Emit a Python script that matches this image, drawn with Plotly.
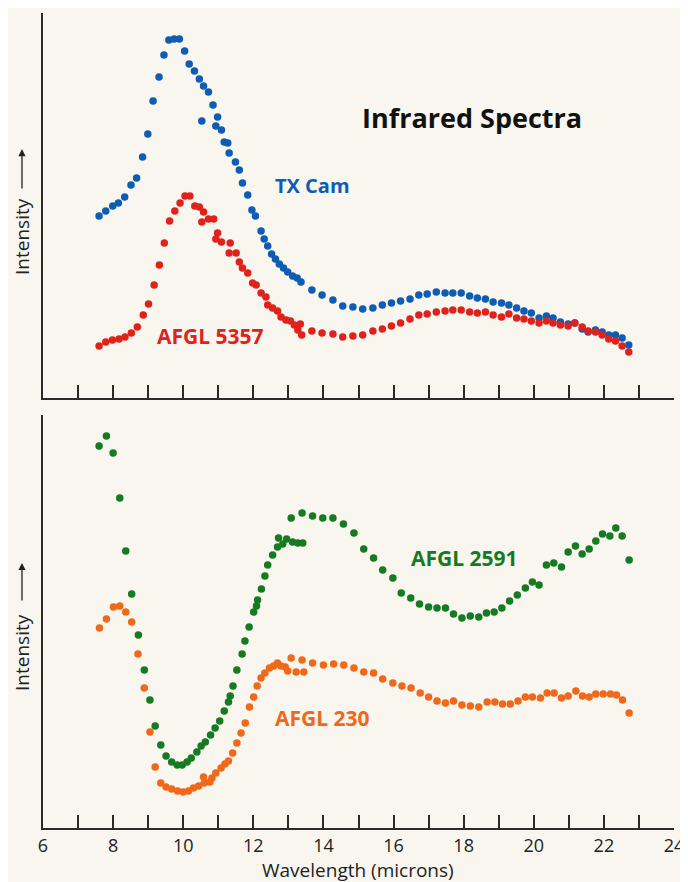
import plotly.graph_objects as go
from plotly.subplots import make_subplots

# ---- Data (arbitrary intensity units) ----
tx_cam_w = [7.60, 7.79, 7.99, 8.15, 8.33, 8.51, 8.67, 8.84, 8.99, 9.14, 9.31, 9.45, 9.59, 9.74, 9.89,
            10.04, 10.17, 10.32, 10.46, 10.58, 10.53, 10.72, 10.85, 10.98, 10.93, 11.09, 11.17, 11.27,
            11.31, 11.49, 11.60, 11.69, 11.84, 11.96, 12.06, 12.22, 12.31, 12.41, 12.52, 12.63, 12.74,
            12.86, 12.98, 13.12, 13.25, 13.36, 13.67, 13.96, 14.27, 14.55, 14.84, 15.12, 15.41, 15.68,
            15.94, 16.20, 16.47, 16.72, 16.96, 17.22, 17.47, 17.69, 17.93, 18.17, 18.39, 18.62, 18.84,
            19.08, 19.29, 19.51, 19.72, 19.93, 20.15, 20.36, 20.55, 20.76, 20.98, 21.17, 21.38, 21.55,
            21.76, 21.95, 22.14, 22.33, 22.52, 22.71]
tx_cam_i = [182, 187, 192, 195, 201, 213, 220, 241, 264, 297, 321, 343, 358, 359, 359,
            347, 334, 327, 319, 312, 277, 306, 293, 281, 272, 268, 256, 255,
            245, 236, 228, 215, 203, 188, 182, 167, 159, 152, 144, 139, 134,
            130, 126, 122, 120, 116, 108, 103, 98, 92, 91, 89, 90, 93,
            95, 97, 99, 103, 104, 106, 105, 105, 105, 102, 100, 99, 96,
            95, 93, 90, 87, 85, 80, 82, 80, 76, 74, 75, 69, 66,
            68, 66, 63, 63, 60, 53]

afgl5357_w = [7.60, 7.79, 7.98, 8.17, 8.34, 8.52, 8.69, 8.86, 9.01, 9.17, 9.32, 9.46, 9.61, 9.76, 9.91,
              10.05, 10.19, 10.33, 10.46, 10.58, 10.53, 10.72, 10.87, 10.98, 10.93, 11.09, 11.34, 11.31,
              11.51, 11.60, 11.69, 11.84, 11.98, 12.08, 12.22, 12.36, 12.41, 12.55, 12.69, 12.79, 12.93,
              13.06, 13.17, 13.34, 13.27, 13.38, 13.67, 13.96, 14.27, 14.55, 14.84, 15.12, 15.41, 15.68,
              15.94, 16.20, 16.47, 16.72, 16.96, 17.22, 17.47, 17.69, 17.93, 18.17, 18.39, 18.62, 18.84,
              19.08, 19.29, 19.51, 19.72, 19.93, 20.15, 20.36, 20.55, 20.76, 20.98, 21.17, 21.38, 21.55,
              21.76, 21.95, 22.14, 22.33, 22.52, 22.71]
afgl5357_i = [52, 56, 58, 59, 61, 65, 71, 83, 94, 113, 133, 155, 177, 187, 195,
              202, 202, 192, 191, 186, 176, 179, 179, 165, 159, 156, 155, 145,
              145, 136, 130, 125, 115, 113, 105, 101, 93, 90, 87, 81, 78,
              77, 73, 74, 68, 63, 67, 65, 64, 61, 62, 63, 67, 69,
              72, 75, 79, 83, 84, 86, 87, 88, 88, 86, 85, 86, 83,
              81, 84, 80, 79, 77, 75, 77, 75, 73, 72, 75, 71, 67,
              66, 63, 59, 57, 52, 46]

afgl2591_w = [7.60, 7.81, 8.00, 8.19, 8.36, 8.53, 8.72, 8.89, 9.05, 9.20, 9.36, 9.51, 9.67, 9.83, 9.97,
              10.11, 10.23, 10.39, 10.51, 10.63, 10.78, 10.91, 11.04, 11.17, 11.29, 11.34, 11.42, 11.53,
              11.68, 11.76, 11.88, 12.01, 12.09, 12.12, 12.23, 12.33, 12.41, 12.55, 12.69, 12.72, 12.84,
              12.95, 13.12, 13.27, 13.41, 13.08, 13.39, 13.69, 13.98, 14.27, 14.57, 14.87, 15.15, 15.43,
              15.69, 15.98, 16.22, 16.49, 16.74, 17.00, 17.24, 17.48, 17.71, 17.95, 18.19, 18.43, 18.65,
              18.87, 19.09, 19.31, 19.53, 19.76, 19.96, 20.15, 20.36, 20.57, 20.79, 20.98, 21.19, 21.38,
              21.58, 21.77, 21.96, 22.17, 22.34, 22.52, 22.72]
afgl2591_i = [382, 392, 375, 330, 277, 234, 193, 158, 128, 102, 83, 72, 66, 63, 63,
              66, 70, 76, 82, 86, 93, 100, 107, 117, 126, 132, 142, 158,
              174, 187, 201, 216, 222, 228, 239, 252, 263, 273, 281, 290, 284,
              289, 286, 285, 285, 310, 315, 312, 310, 310, 304, 295, 279, 270,
              258, 250, 235, 230, 224, 221, 220, 220, 214, 210, 212, 211, 215,
              216, 220, 227, 233, 240, 246, 243, 263, 265, 261, 276, 282, 274,
              279, 287, 294, 292, 300, 292, 268]

afgl230_w = [7.61, 7.81, 8.01, 8.19, 8.36, 8.53, 8.71, 8.89, 9.05, 9.20, 9.36, 9.51, 9.67, 9.84, 10.00,
             10.15, 10.29, 10.44, 10.58, 10.60, 10.76, 10.82, 10.93, 11.08, 11.19, 11.29, 11.41, 11.53,
             11.65, 11.77, 11.89, 12.01, 12.11, 12.22, 12.33, 12.46, 12.58, 12.69, 12.79, 12.91, 12.98,
             13.08, 13.22, 13.39, 13.44, 13.69, 14.00, 14.29, 14.58, 14.87, 15.15, 15.43, 15.69, 15.98,
             16.24, 16.50, 16.76, 17.00, 17.24, 17.48, 17.71, 17.95, 18.19, 18.43, 18.67, 18.89, 19.11,
             19.33, 19.55, 19.76, 19.96, 20.19, 20.38, 20.58, 20.79, 20.98, 21.20, 21.39, 21.58, 21.77,
             21.98, 22.19, 22.36, 22.53, 22.72]
afgl230_i = [200, 209, 221, 222, 216, 206, 174, 140, 96, 61, 45, 41, 39, 37, 36,
             37, 40, 42, 51, 45, 46, 50, 55, 60, 64, 67, 75, 85,
             95, 105, 121, 131, 142, 150, 155, 160, 162, 165, 162, 161, 157,
             170, 156, 168, 156, 165, 163, 164, 163, 160, 156, 155, 149, 145,
             142, 140, 135, 131, 127, 125, 127, 123, 122, 121, 126, 126, 124,
             124, 127, 131, 131, 130, 135, 135, 130, 132, 137, 132, 131, 134,
             134, 134, 133, 128, 115]

x_tick_vals = list(range(6, 25))
x_tick_text = [str(v) if v % 2 == 0 else "" for v in x_tick_vals]

BG = "#f8f6ee"
AX = "#2a2a2a"
BLUE = "#0e5cb3"
RED = "#e0221d"
GREEN = "#157a22"
ORANGE = "#f0681a"
FONT = "Open Sans"

fig = make_subplots(rows=2, cols=1, shared_xaxes=False)

def add(ws, ys, color, row):
    fig.add_trace(go.Scatter(x=ws, y=ys, mode="markers",
                             marker=dict(color=color, size=7.5, line=dict(width=0)),
                             showlegend=False, hoverinfo="x+y"), row=row, col=1)

add(tx_cam_w, tx_cam_i, BLUE, 1)
add(afgl5357_w, afgl5357_i, RED, 1)
add(afgl2591_w, afgl2591_i, GREEN, 2)
add(afgl230_w, afgl230_i, ORANGE, 2)

common_x = dict(range=[6, 24], showgrid=False, zeroline=False, showline=True, automargin=False,
                linecolor=AX, linewidth=2, ticks="inside", ticklen=13, tickwidth=1.5,
                tickcolor=AX, tickmode="array", tickvals=x_tick_vals)
fig.update_xaxes(**common_x, ticktext=["" for _ in x_tick_vals], showticklabels=False,
                 domain=[0, 1], row=1, col=1)
fig.update_xaxes(**common_x, ticktext=x_tick_text,
                 tickfont=dict(family=FONT, size=18, color="#222"),
                 domain=[0, 1], row=2, col=1)
common_y = dict(showgrid=False, zeroline=False, showline=True, linecolor=AX, linewidth=2,
                ticks="", showticklabels=False, automargin=False)
fig.update_yaxes(**common_y, range=[0, 385], domain=[0.5276, 1.0], row=1, col=1)
fig.update_yaxes(**common_y, range=[0, 413], domain=[0.0, 0.5067], row=2, col=1)

ann = []
def label(text, x, y, color, size, xref, yref):
    ann.append(dict(text=f"<b>{text}</b>", x=x, y=y, xref=xref, yref=yref,
                    showarrow=False, xanchor="left", yanchor="middle",
                    font=dict(family=FONT, size=size, color=color)))

label("Infrared Spectra", 15.05, 281, "#111", 27, "x", "y")
label("TX Cam", 12.55, 213, BLUE, 20, "x", "y")
label("AFGL 5357", 9.2, 62, RED, 21, "x", "y")
label("AFGL 2591", 16.45, 270, GREEN, 21, "x2", "y2")
label("AFGL 230", 12.55, 110, ORANGE, 21, "x2", "y2")

# axis titles
ann.append(dict(text="Wavelength (microns)", x=0.4992, y=-0.0515, xref="paper", yref="paper",
                showarrow=False, xanchor="center", yanchor="middle",
                font=dict(family=FONT, size=19, color="#222")))
for yc, tip, alen in ((0.7264, 0.8331, 41), (0.2160, 0.3252, 39)):
    ann.append(dict(text="Intensity", x=-0.0333, y=yc, xref="paper", yref="paper",
                    textangle=-90, showarrow=False, xanchor="center", yanchor="middle",
                    font=dict(family=FONT, size=19, color="#222")))
    ann.append(dict(text="", x=-0.0333, y=tip, xref="paper", yref="paper",
                    ax=0, ay=alen, axref="pixel", ayref="pixel",
                    showarrow=True, arrowhead=2, arrowsize=1.1, arrowwidth=1.3,
                    arrowcolor="#222"))

# page body has an 8px default margin: compensate so the plot lands where the reference has it
fig.update_layout(width=680, height=874, paper_bgcolor=BG, plot_bgcolor=BG,
                  margin=dict(l=35, r=14, t=5, b=54), annotations=ann)

fig.write_html("out.html")
